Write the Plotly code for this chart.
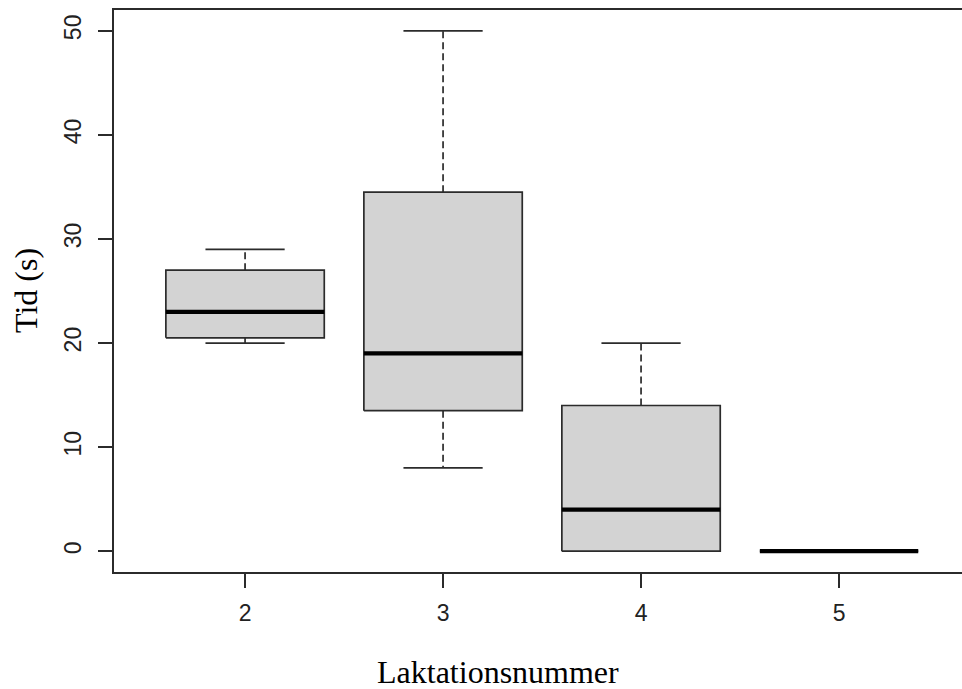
import plotly.graph_objects as go

# ---- data ----
categories = ["2", "3", "4", "5"]
lower_whisker = [20, 8, 0, 0]
q1 = [20.5, 13.5, 0, 0]
median = [23, 19, 4, 0]
q3 = [27, 34.5, 14, 0]
upper_whisker = [29, 50, 20, 0]
y_ticks = [0, 10, 20, 30, 40, 50]

x_title = "Laktationsnummer"
y_title = "Tid (s)"

# ---- style ----
HW = 0.4   # box half width
CW = 0.2   # staple half width
LINE = "#2b2b2b"
FILL = "#d3d3d3"

pos = list(range(1, len(categories) + 1))

def seg(pairs):
    xs, ys = [], []
    for (x0, y0, x1, y1) in pairs:
        xs += [x0, x1, None]
        ys += [y0, y1, None]
    return xs, ys

fig = go.Figure()

# dashed whiskers
wx, wy = seg([(p, q3[i], p, upper_whisker[i]) for i, p in enumerate(pos)] +
             [(p, q1[i], p, lower_whisker[i]) for i, p in enumerate(pos)])
fig.add_trace(go.Scatter(x=wx, y=wy, mode="lines",
                         line=dict(color=LINE, width=1.7, dash="7px,4px"),
                         hoverinfo="skip", showlegend=False))

# staples
sx, sy = seg([(p - CW, upper_whisker[i], p + CW, upper_whisker[i]) for i, p in enumerate(pos)] +
             [(p - CW, lower_whisker[i], p + CW, lower_whisker[i]) for i, p in enumerate(pos)])
fig.add_trace(go.Scatter(x=sx, y=sy, mode="lines",
                         line=dict(color=LINE, width=1.7),
                         hoverinfo="skip", showlegend=False))

# boxes
bx, by = [], []
for i, p in enumerate(pos):
    bx += [p - HW, p + HW, p + HW, p - HW, p - HW, None]
    by += [q1[i], q1[i], q3[i], q3[i], q1[i], None]
fig.add_trace(go.Scatter(x=bx, y=by, mode="lines", fill="toself",
                         fillcolor=FILL, line=dict(color=LINE, width=1.7),
                         hoverinfo="skip", showlegend=False))

# medians
mx, my = seg([(p - HW, median[i], p + HW, median[i]) for i, p in enumerate(pos)])
fig.add_trace(go.Scatter(x=mx, y=my, mode="lines",
                         line=dict(color="#000000", width=4.2),
                         hoverinfo="skip", showlegend=False))

tick_font = dict(family="Liberation Sans, Arial, sans-serif", size=23, color="#222222")
title_font = dict(family="Liberation Serif, Times New Roman, serif", size=32, color="#000000")

fig.update_layout(
    width=962, height=689,
    margin=dict(l=114, r=0, t=10, b=117),
    paper_bgcolor="white", plot_bgcolor="white",
    xaxis=dict(range=[0.338, 4.621], tickvals=pos, ticktext=categories,
               showgrid=False, zeroline=False, showline=True, mirror=True,
               linecolor=LINE, linewidth=1.7, ticks="outside", ticklen=14,
               tickwidth=1.7, tickcolor=LINE, tickfont=tick_font,
               ticklabelstandoff=6),
    yaxis=dict(range=[-2, 52], tickvals=y_ticks,
               ticktext=[str(v) for v in y_ticks],
               showgrid=False, zeroline=False, showline=True, mirror=False,
               linecolor=LINE, linewidth=1.7, ticks="outside", ticklen=14,
               tickwidth=1.7, tickcolor=LINE, tickfont=tick_font,
               tickangle=-90, ticklabelstandoff=8),
    annotations=[
        dict(text=x_title, xref="paper", yref="paper",
             x=(498 - 114) / 848, y=(572 - 672) / 562,
             xanchor="center", yanchor="middle", showarrow=False, font=title_font),
        dict(text=y_title, xref="paper", yref="paper",
             x=(26 - 114) / 848, y=0.5, textangle=-90,
             xanchor="center", yanchor="middle", showarrow=False, font=title_font),
    ],
)

# remove the default page margin so the figure fills the window exactly
fig.write_html("out.html",
               config={"displayModeBar": False, "staticPlot": True},
               post_script="document.body.style.margin='0';document.body.style.overflow='hidden';")
